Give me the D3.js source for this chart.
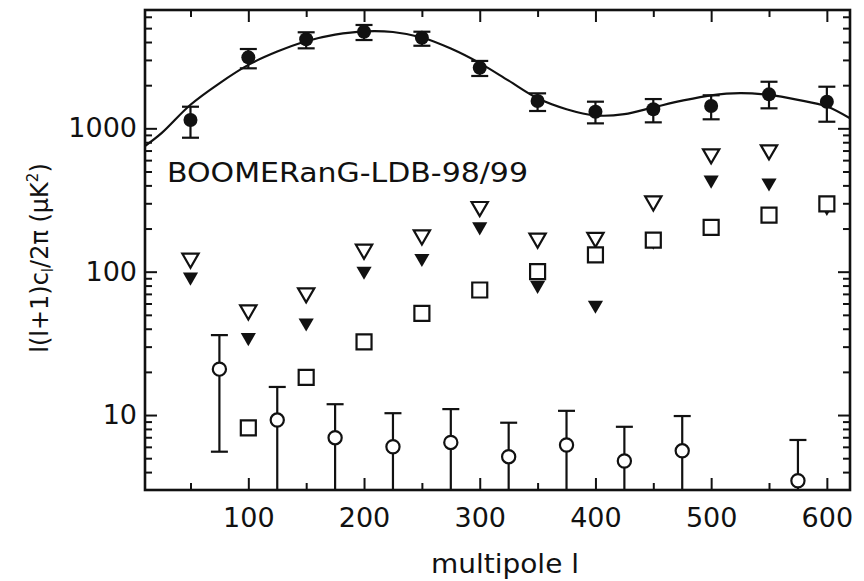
<!DOCTYPE html>
<html><head><meta charset="utf-8">
<script src="https://cdn.jsdelivr.net/npm/d3@7"></script>
<style>
html,body{margin:0;padding:0;background:#fff;}
text{font-family:"DejaVu Sans",sans-serif;fill:#111;}
</style></head>
<body><svg id="c" width="864" height="581"></svg>
<script>
// ---- data ----
const xMajorTicks = [100, 200, 300, 400, 500, 600];
const xMinorTicks = [50, 150, 250, 350, 450, 550];
const yMajorTicks = [10, 100, 1000];
const yMinorTicks = [4,5,6,7,8,9,20,30,40,50,60,70,80,90,200,300,400,500,600,700,800,900,2000,3000,4000,5000,6000];

// filled circles (BOOMERanG T) with error bars
const bL   = [50, 100, 150, 200, 250, 300, 350, 400, 450, 500, 550, 600];
const bVal = [1143, 3128, 4180, 4721, 4286, 2649, 1550, 1306, 1358, 1432, 1726, 1534];
const bLo  = [860, 2622, 3614, 4130, 3767, 2318, 1321, 1083, 1101, 1156, 1379, 1112];
const bHi  = [1415, 3575, 4677, 5260, 4720, 2952, 1754, 1534, 1600, 1700, 2113, 1951];

// theory curve
const cL   = [10, 25, 50, 75, 100, 125, 150, 175, 200, 225, 250, 275, 300, 325, 350, 375, 400, 425, 450, 475, 500, 525, 550, 575, 600, 620];
const cVal = [745, 925, 1460, 2061, 2770, 3430, 4050, 4500, 4750, 4700, 4300, 3600, 2850, 2150, 1620, 1360, 1230, 1255, 1400, 1560, 1700, 1760, 1710, 1580, 1420, 1174];

// open down-triangles
const otL   = [50, 100, 150, 200, 250, 300, 350, 400, 450, 500, 550];
const otVal = [124, 54, 71, 143, 180, 284, 171, 173, 311, 662, 706];

// filled down-triangles
const ftL   = [50, 100, 150, 200, 250, 300, 350, 400, 450, 500, 550, 600];
const ftVal = [92, 34.8, 44, 101, 124, 206, 80.6, 58.5, 164, 436, 417, 282];

// open squares
const sqL   = [100, 150, 200, 250, 300, 350, 400, 450, 500, 550, 600];
const sqVal = [8.15, 18.3, 32.4, 51.2, 74.5, 100, 131, 166, 204, 248, 297];

// open circles with error bars (lower 0 = below axis)
const ocL   = [75, 125, 175, 225, 275, 325, 375, 425, 475, 575];
const ocVal = [20.9, 9.23, 6.95, 6.01, 6.44, 5.12, 6.18, 4.78, 5.63, 3.48];
const ocLo  = [5.55, 0, 0, 0, 0, 0, 0, 0, 0, 0];
const ocHi  = [36.1, 15.7, 11.9, 10.3, 11.0, 8.84, 10.7, 8.28, 9.84, 6.7];

const labelText = "BOOMERanG-LDB-98/99";

// ---- layout ----
const L = 145, R = 850, T = 10, B = 490;
const svg = d3.select("#c");
const x = d3.scaleLinear().domain([10.7, 620]).range([L, R]);
const y = d3.scaleLog().domain([3, 6690]).range([B, T]).clamp(true);
const yPos = v => v <= 0 ? B + 40 : y(v);

const plot = svg.append("g");
svg.append("defs").append("clipPath").attr("id","clip")
  .append("rect").attr("x",L).attr("y",T).attr("width",R-L).attr("height",B-T);
const clipped = plot.append("g").attr("clip-path","url(#clip)");

// axes (inward ticks)
function styleAxis(g){
  g.select(".domain").remove();
  g.selectAll(".tick line").attr("stroke","#111").attr("stroke-width",2);
  g.selectAll(".tick text").style("font-size","27px").attr("fill","#111");
}
svg.append("g").attr("transform",`translate(0,${B})`)
  .call(d3.axisBottom(x).tickValues(xMajorTicks).tickSize(-12).tickPadding(18).tickFormat(d3.format("d")))
  .call(styleAxis);
svg.append("g").attr("transform",`translate(0,${B})`)
  .call(d3.axisBottom(x).tickValues(xMinorTicks).tickSize(-7).tickFormat(""))
  .call(styleAxis);
svg.append("g").attr("transform",`translate(0,${T})`)
  .call(d3.axisTop(x).tickValues(xMajorTicks).tickSize(-12).tickFormat(""))
  .call(styleAxis);
svg.append("g").attr("transform",`translate(0,${T})`)
  .call(d3.axisTop(x).tickValues(xMinorTicks).tickSize(-7).tickFormat(""))
  .call(styleAxis);
svg.append("g").attr("transform",`translate(${L},0)`)
  .call(d3.axisLeft(y).tickValues(yMajorTicks).tickSize(-12).tickPadding(8).tickFormat(d3.format("d")))
  .call(styleAxis);
svg.append("g").attr("transform",`translate(${L},0)`)
  .call(d3.axisLeft(y).tickValues(yMinorTicks).tickSize(-7).tickFormat(""))
  .call(styleAxis);
svg.append("g").attr("transform",`translate(${R},0)`)
  .call(d3.axisRight(y).tickValues(yMajorTicks).tickSize(-12).tickFormat(""))
  .call(styleAxis);
svg.append("g").attr("transform",`translate(${R},0)`)
  .call(d3.axisRight(y).tickValues(yMinorTicks).tickSize(-7).tickFormat(""))
  .call(styleAxis);

// frame
svg.append("rect").attr("x",L).attr("y",T).attr("width",R-L).attr("height",B-T)
  .attr("fill","none").attr("stroke","#111").attr("stroke-width",2.6);

// theory curve
const curve = cL.map((l,i)=>[l,cVal[i]]);
clipped.append("path").datum(curve)
  .attr("d", d3.line().x(d=>x(d[0])).y(d=>y(d[1])).curve(d3.curveCatmullRom.alpha(0.5)))
  .attr("fill","none").attr("stroke","#111").attr("stroke-width",2.2);

function errorBars(g, ls, lo, hi){
  const cap = 8.5;
  ls.forEach((l,i)=>{
    const cx = x(l), y1 = yPos(lo[i]), y2 = y(hi[i]);
    g.append("line").attr("x1",cx).attr("x2",cx).attr("y1",y1).attr("y2",y2)
      .attr("stroke","#111").attr("stroke-width",2.2);
    g.append("line").attr("x1",cx-cap).attr("x2",cx+cap).attr("y1",y2).attr("y2",y2)
      .attr("stroke","#111").attr("stroke-width",2.2);
    if (lo[i] > 0) g.append("line").attr("x1",cx-cap).attr("x2",cx+cap).attr("y1",y1).attr("y2",y1)
      .attr("stroke","#111").attr("stroke-width",2.2);
  });
}

// filled triangles (drawn before squares so squares cover them)
clipped.selectAll("path.ft").data(ftL.map((l,i)=>[l,ftVal[i]])).join("path")
  .attr("class","ft")
  .attr("d", d3.symbol().type(d3.symbolTriangle).size(100)())
  .attr("transform", d=>`translate(${x(d[0])},${y(d[1])}) rotate(180)`)
  .attr("fill","#111");

clipped.selectAll("path.ot").data(otL.map((l,i)=>[l,otVal[i]])).join("path")
  .attr("class","ot")
  .attr("d", d3.symbol().type(d3.symbolTriangle).size(115)())
  .attr("transform", d=>`translate(${x(d[0])},${y(d[1])}) rotate(180)`)
  .attr("fill","#fff").attr("stroke","#111").attr("stroke-width",2.2);

clipped.selectAll("path.sq").data(sqL.map((l,i)=>[l,sqVal[i]])).join("path")
  .attr("class","sq")
  .attr("d", d3.symbol().type(d3.symbolSquare).size(225)())
  .attr("transform", d=>`translate(${x(d[0])},${y(d[1])})`)
  .attr("fill","#fff").attr("stroke","#111").attr("stroke-width",2.2);

// open circles
errorBars(clipped, ocL, ocLo, ocHi);
clipped.selectAll("circle.oc").data(ocL.map((l,i)=>[l,ocVal[i]])).join("circle")
  .attr("class","oc").attr("cx",d=>x(d[0])).attr("cy",d=>y(d[1])).attr("r",6.6)
  .attr("fill","#fff").attr("stroke","#111").attr("stroke-width",2.2);

// filled circles
errorBars(clipped, bL, bLo, bHi);
clipped.selectAll("circle.bc").data(bL.map((l,i)=>[l,bVal[i]])).join("circle")
  .attr("class","bc").attr("cx",d=>x(d[0])).attr("cy",d=>y(d[1])).attr("r",7)
  .attr("fill","#111");

// labels
svg.append("text").attr("x",167).attr("y",182).style("font-size","26px")
  .attr("textLength",361).attr("lengthAdjust","spacingAndGlyphs").text(labelText);

svg.append("text").attr("x",505).attr("y",573).attr("text-anchor","middle")
  .style("font-size","27px").attr("textLength",148).attr("lengthAdjust","spacingAndGlyphs")
  .text("multipole l");

const yl = svg.append("text").attr("transform","translate(48,258) rotate(-90)")
  .attr("text-anchor","middle").style("font-size","24px");
yl.append("tspan").text("l(l+1)c");
yl.append("tspan").attr("dy",5).style("font-size","15px").text("l");
yl.append("tspan").attr("dy",-5).text("/2π (μK");
yl.append("tspan").attr("dy",-10).style("font-size","15px").text("2");
yl.append("tspan").attr("dy",10).text(")");
</script></body></html>
